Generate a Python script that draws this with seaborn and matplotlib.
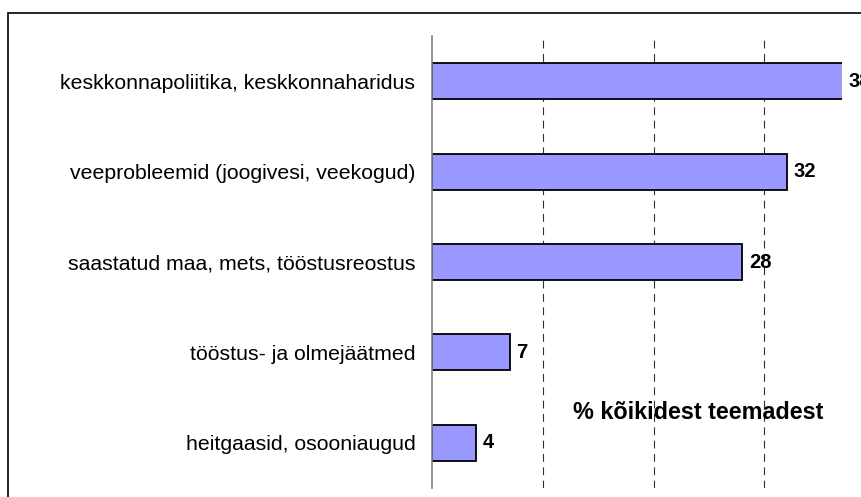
import matplotlib.pyplot as plt
import matplotlib.patches as mpatches
import pandas as pd
import seaborn as sns

categories = ["keskkonnapoliitika, keskkonnaharidus",
              "veeprobleemid (joogivesi, veekogud)",
              "saastatud maa, mets, tööstusreostus",
              "tööstus- ja olmejäätmed",
              "heitgaasid, osooniaugud"]
values = [38, 32, 28, 7, 4]
note = "% kõikidest teemadest"

df = pd.DataFrame({"teema": categories, "pct": values})

sns.set_style("white")
plt.rcParams['font.family'] = ['Liberation Sans', 'DejaVu Sans']
plt.rcParams['text.color'] = 'black'
plt.rcParams['ytick.color'] = 'black'

fig = plt.figure(figsize=(8.62, 4.97), dpi=100)
ax = fig.add_axes([432/862, 1-488/497, (842-432)/862, (488-36)/497])

sns.barplot(data=df, x="pct", y="teema", color="#9999FF", saturation=1,
            edgecolor="black", linewidth=1.3, width=0.4, ax=ax)

# axis stops a bit short of the largest bar, as in the original
xmax = 37
ax.set_xlim(0, xmax)
ax.set_ylim(4.5, -0.5)
ax.set_xticks([10, 20, 30])
ax.xaxis.grid(True, linestyle=(0, (7, 5)), color="#303030", linewidth=0.8)
ax.tick_params(axis="x", length=0, labelbottom=False)
ax.set_xlabel("")
ax.set_ylabel("")

for s in ["top", "right", "bottom"]:
    ax.spines[s].set_visible(False)
ax.spines["left"].set_color("#808080")
ax.spines["left"].set_linewidth(1.2)

ax.set_yticks(range(5))
ax.set_yticklabels(categories, fontsize=15.3, color="black")
ax.tick_params(axis="y", which="major", length=0, pad=12)
ax.set_yticks([-0.5, 0.5, 1.5, 2.5, 3.5, 4.5], minor=True)
ax.tick_params(axis="y", which="minor", length=5, width=1.2, color="#808080", direction="out")

for i, v in enumerate(values):
    ax.text(min(v, xmax) + 0.6, i, str(v), va="center", ha="left", fontsize=14.5,
            fontweight="bold", color="black", clip_on=False)

ax.text(24, 3.67, note, ha="center", va="center", fontsize=16.8,
        fontweight="bold", color="black")

frame = mpatches.Rectangle((8/862, -0.1), 1.2, 1 - 13/497 + 0.1, transform=fig.transFigure,
                           fill=False, edgecolor="black", linewidth=1.2)
fig.patches.append(frame)

plt.savefig("out.png", dpi=100)
